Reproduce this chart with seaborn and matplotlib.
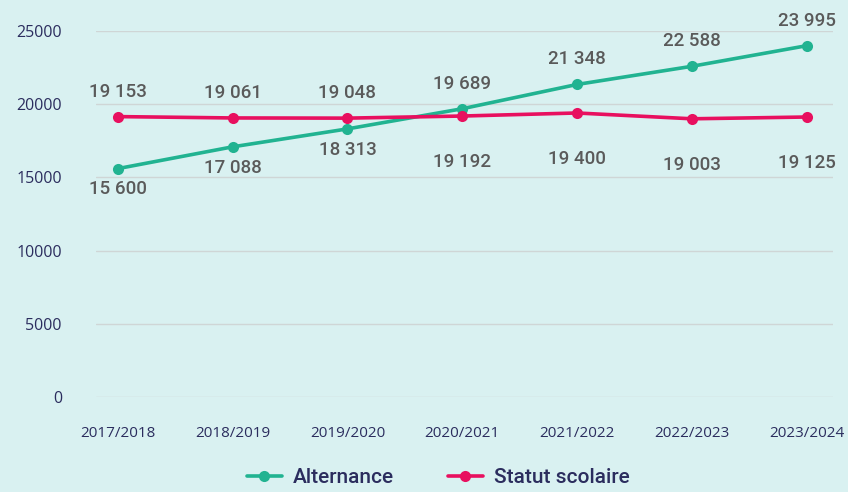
import pandas as pd
import numpy as np
import matplotlib.pyplot as plt
import seaborn as sns

years = ["2017/2018", "2018/2019", "2019/2020", "2020/2021", "2021/2022", "2022/2023", "2023/2024"]
alternance = [15600, 17088, 18313, 19689, 21348, 22588, 23995]
statut = [19153, 19061, 19048, 19192, 19400, 19003, 19125]
# label placement: +1 above, -1 below
alt_pos = [-1, -1, -1, 1, 1, 1, 1]
stat_pos = [1, 1, 1, -1, -1, -1, -1]

bg = "#d9f1f1"
teal = "#21b391"
pink = "#e8105f"
navy = "#2b2d5e"
gray = "#5a5a5a"

df = pd.DataFrame({
    "year": years * 2,
    "value": alternance + statut,
    "serie": ["Alternance"] * len(years) + ["Statut scolaire"] * len(years),
})

sns.set_style("white")
plt.rcParams["font.family"] = ["Open Sans", "DejaVu Sans"]

fig = plt.figure(figsize=(8.48, 4.92), dpi=100, facecolor=bg)
ax = fig.add_axes([96 / 848, 95 / 492, (833 - 96) / 848, (397 - 31) / 492])
ax.set_facecolor(bg)

sns.lineplot(data=df, x="year", y="value", hue="serie", palette=[teal, pink],
             marker="o", markersize=8, markeredgewidth=0, linewidth=2.6,
             sort=False, ax=ax)

ax.set_ylim(0, 25000)
ax.set_xlim(-0.19, 6.23)
ax.set_yticks([0, 5000, 10000, 15000, 20000, 25000])
ax.yaxis.grid(True, color="#cfd6d6", linewidth=1)
ax.set_axisbelow(True)
for s in ax.spines.values():
    s.set_visible(False)
ax.tick_params(axis="both", length=0, labelsize=11, labelcolor=navy)
ax.tick_params(axis="y", labelsize=11.5, pad=24.5)
ax.tick_params(axis="x", pad=21)
ax.set_xlabel("")
ax.set_ylabel("")


def fmt(v):
    return f"{v:,}".replace(",", " ")


# offsets in points (above / below) for each series
offsets = {"alt": (18, -15), "stat": (18, -33)}
for key, vals, pos in [("alt", alternance, alt_pos), ("stat", statut, stat_pos)]:
    up, down = offsets[key]
    for i, (v, p) in enumerate(zip(vals, pos)):
        ax.annotate(fmt(v), (i, v), xytext=(0, up if p > 0 else down), textcoords="offset points",
                    ha="center", va="center", fontsize=13.5, color=gray,
                    family=["Roboto", "DejaVu Sans"], fontweight="medium",
                    annotation_clip=False)

leg = ax.legend(loc="center", bbox_to_anchor=(0.464, -0.22), ncol=2, frameon=False,
                prop={"family": "Roboto", "weight": "medium", "size": 15},
                handlelength=1.7, columnspacing=2.6, handletextpad=0.5)
for t in leg.get_texts():
    t.set_color(navy)

fig.savefig("out.png", dpi=100, facecolor=bg)
